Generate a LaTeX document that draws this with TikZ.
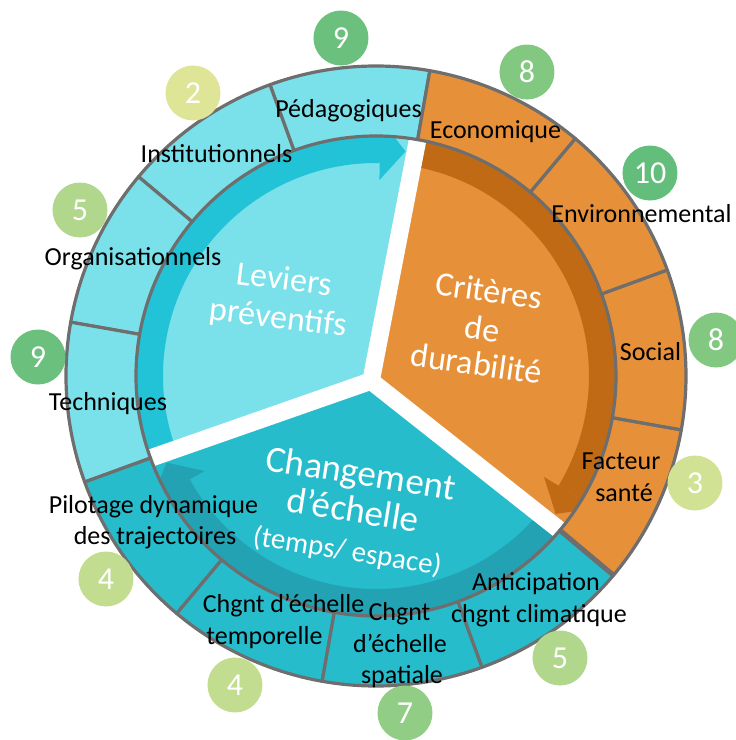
\documentclass[tikz,border=0pt]{standalone}
\usepackage{fontspec}
\setmainfont{Carlito}
\definecolor{lblue}{RGB}{122,224,234}
\definecolor{lbband}{RGB}{34,195,214}
\definecolor{tealc}{RGB}{38,188,204}
\definecolor{tealband}{RGB}{34,162,178}
\definecolor{orangec}{RGB}{230,145,57}
\definecolor{orband}{RGB}{192,106,22}
\definecolor{ringgray}{RGB}{110,110,110}
\definecolor{gA}{RGB}{99,190,123}
\definecolor{gB}{RGB}{106,192,124}
\definecolor{gC}{RGB}{130,200,129}
\definecolor{gD}{RGB}{145,205,132}
\definecolor{gE}{RGB}{176,215,139}
\definecolor{gF}{RGB}{194,221,143}
\definecolor{gG}{RGB}{210,226,148}
\definecolor{gH}{RGB}{222,229,150}
\begin{document}
\begin{tikzpicture}[x=1pt,y=1pt,
  seglabel/.style={anchor=base, inner sep=0pt, text=black, font=\fontsize{26}{30}\selectfont},
  numc/.style={circle, minimum size=55pt, inner sep=0pt, text=white, font=\fontsize{32}{32}\selectfont},
  biglabel/.style={anchor=base, text=white, inner sep=0pt, font=\fontsize{34}{38}\selectfont},
  hugelabel/.style={anchor=base, text=white, inner sep=0pt, font=\fontsize{37}{40}\selectfont},
  gapline/.style={white, line width=17.5pt},
  segborder/.style={draw=ringgray, line width=3.2pt, line join=round}
]
\useasboundingbox (-376,-364) rectangle (360,376);
\def\Rin{240}
\def\Rout{310}
\def\Rb{213}
% sectors
\fill[lblue] (0,0) -- (80:\Rin) arc[start angle=80,end angle=200,radius=\Rin] -- cycle;
\fill[tealc] (0,0) -- (200:\Rin) arc[start angle=200,end angle=320,radius=\Rin] -- cycle;
\fill[orangec] (0,0) -- (320:\Rin) arc[start angle=320,end angle=440,radius=\Rin] -- cycle;
% arrow bands
\fill[lbband] (200:\Rb) arc[start angle=200,end angle=89,radius=\Rb] -- (89:\Rin) arc[start angle=89,end angle=200,radius=\Rin] -- cycle;
\fill[orband] (80:\Rb) arc[start angle=80,end angle=-31,radius=\Rb] -- (-31:\Rin) arc[start angle=-31,end angle=80,radius=\Rin] -- cycle;
\fill[tealband] (320:\Rb) arc[start angle=320,end angle=209,radius=\Rb] -- (209:\Rin) arc[start angle=209,end angle=320,radius=\Rin] -- cycle;
% gaps
\coordinate (c0) at (-5,-5);
\coordinate (g1) at (80:\Rin);
\coordinate (g2) at (200:\Rin);
\coordinate (g3) at (320:\Rin);
\draw[gapline] (c0) -- (g1);
\draw[gapline] (c0) -- (g2);
\draw[gapline] (c0) -- (g3);
% arrow heads
\fill[lbband] (89:196) -- (82.5:226.5) -- (89:257) -- cycle;
\fill[orband] (-31:196) -- (-37.5:226.5) -- (-31:257) -- cycle;
\fill[tealband] (209:196) -- (202.5:226.5) -- (209:257) -- cycle;
% outer ring
\foreach \a/\c in {80/lblue,110/lblue,140/lblue,170/lblue,200/tealc,230/tealc,260/tealc,290/tealc,320/orangec,350/orangec,380/orangec,410/orangec}{
  \pgfmathsetmacro{\b}{\a+30}
  \filldraw[fill=\c, segborder] (\a:\Rin) arc[start angle=\a, end angle=\b, radius=\Rin] -- (\b:\Rout) arc[start angle=\b, end angle=\a, radius=\Rout] -- cycle;
}
\draw[ringgray, line width=5pt] (320:\Rin) -- (320:\Rout);
% segment labels
\node[seglabel] (l1) at (-27.5,259) {Pédagogiques};
\node[seglabel] (l2) at (-159.5,214) {Institutionnels};
\node[seglabel] (l3) at (-243,111) {Organisationnels};
\node[seglabel] (l4) at (-268,-34) {Techniques};
\node[seglabel] (l5a) at (-222.5,-137) {Pilotage dynamique};
\node[seglabel] (l5b) at (-221,-168) {des trajectoires};
\node[seglabel] (l6a) at (-92.5,-236) {Chgnt d’échelle};
\node[seglabel] (l6b) at (-111.5,-268) {temporelle};
\node[seglabel] (l7a) at (23.5,-244) {Chgnt};
\node[seglabel] (l7b) at (24,-276) {d’échelle};
\node[seglabel] (l7c) at (26,-307) {spatiale};
\node[seglabel] (l8a) at (160,-214) {Anticipation};
\node[seglabel] (l8b) at (163,-246) {chgnt climatique};
\node[seglabel] (l9a) at (245,-93) {Facteur};
\node[seglabel] (l9b) at (248,-125) {santé};
\node[seglabel] (l10) at (274.5,16) {Social};
\node[seglabel] (l11) at (265.5,154) {Environnemental};
\node[seglabel] (l12) at (119.5,238) {Economique};
% big labels
\node[biglabel, rotate=-7] (leva) at (-93,86) {Leviers};
\node[biglabel, rotate=-7] (levb) at (-99,48) {préventifs};
\node[biglabel, rotate=-8] (crita) at (111.5,74) {Critères};
\node[biglabel, rotate=-8] (critb) at (105,36) {de};
\node[biglabel, rotate=-8] (critc) at (99,1) {durabilité};
\node[hugelabel, rotate=-9] (chga) at (-17,-109) {Changement};
\node[hugelabel, rotate=-9] (chgb) at (-25,-146) {d’échelle};
\node[anchor=base, text=white, inner sep=0pt, font=\fontsize{29}{32}\selectfont, rotate=-9] (chgc) at (-30,-184) {(temps/ espace)};
% number circles
\node[numc, fill=gB] (n1) at (-35,338) {9};
\node[numc, fill=gH] (n2) at (-183,283) {2};
\node[numc, fill=gE] (n3) at (-296,166) {5};
\node[numc, fill=gB] (n4) at (-338,19) {9};
\node[numc, fill=gF] (n5) at (-270,-203) {4};
\node[numc, fill=gF] (n6) at (-141,-309) {4};
\node[numc, fill=gD] (n7) at (29,-337) {7};
\node[numc, fill=gE] (n8) at (184,-282) {5};
\node[numc, fill=gG] (n9) at (319,-107) {3};
\node[numc, fill=gC] (n10) at (340,36) {8};
\node[numc, fill=gA] (n11) at (274,203) {10};
\node[numc, fill=gC] (n12) at (151,304) {8};
\end{tikzpicture}
\end{document}
